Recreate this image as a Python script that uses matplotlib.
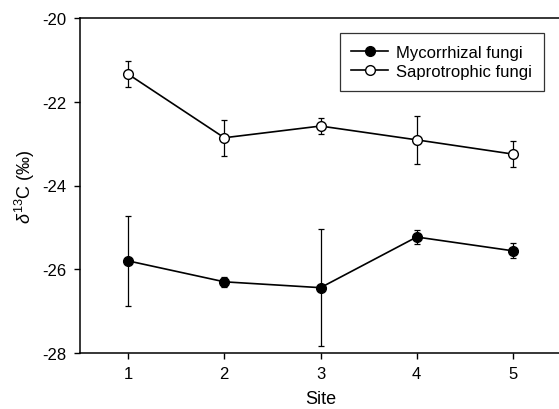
import matplotlib
matplotlib.use('Agg')
import matplotlib.pyplot as plt
from matplotlib.lines import Line2D

plt.rcParams['font.family'] = ['Liberation Sans', 'DejaVu Sans']
plt.rcParams['mathtext.fontset'] = 'custom'
plt.rcParams['mathtext.rm'] = 'Liberation Sans'
plt.rcParams['mathtext.it'] = 'Liberation Sans:italic'
plt.rcParams['axes.unicode_minus'] = False

# dados
sites = [1, 2, 3, 4, 5]
myc_mean = [-25.80, -26.30, -26.44, -25.23, -25.56]
myc_err = [1.07, 0.12, 1.40, 0.17, 0.18]
sap_mean = [-21.34, -22.86, -22.58, -22.91, -23.25]
sap_err = [0.31, 0.43, 0.19, 0.58, 0.31]

fig = plt.figure(figsize=(5.59, 4.10), dpi=100)
ax = fig.add_axes([80 / 559, 1 - 354 / 410, 481 / 559, 335 / 410])

ax.errorbar(sites, myc_mean, yerr=myc_err, color='black', lw=1.2,
            marker='o', ms=7, mfc='black', mec='black', capsize=2.5,
            elinewidth=0.9, capthick=0.9)
ax.errorbar(sites, sap_mean, yerr=sap_err, color='black', lw=1.2,
            marker='o', ms=7, mfc='white', mec='black', capsize=2.5,
            elinewidth=0.9, capthick=0.9)

ax.set_xlim(0.5, 5.5)
ax.set_ylim(-28, -20)
ax.set_xticks(sites)
ax.set_yticks([-28, -26, -24, -22, -20])
ax.tick_params(direction='out', length=4.5, width=1, labelsize=12, pad=5)
for s in ax.spines.values():
    s.set_linewidth(1.1)
ax.spines['right'].set_visible(False)

ax.set_xlabel('Site', fontsize=13, labelpad=6)
ax.set_ylabel(r'$\it{\delta}^{13}$C (‰)', fontsize=13, labelpad=4)

# legenda sem barras de erro
handles = [
    Line2D([], [], color='black', lw=1.2, marker='o', ms=7, mfc='black', mec='black'),
    Line2D([], [], color='black', lw=1.2, marker='o', ms=7, mfc='white', mec='black'),
]
leg = ax.legend(handles, ['Mycorrhizal fungi', 'Saprotrophic fungi'],
                loc='upper right', bbox_to_anchor=(544 / 559, 1 - 34 / 410),
                bbox_transform=fig.transFigure, fontsize=12, frameon=True,
                fancybox=False, edgecolor='black', borderpad=0.7,
                labelspacing=0.25, handlelength=2.2, handletextpad=0.5,
                borderaxespad=0)
leg.get_frame().set_linewidth(0.9)

fig.savefig('out.png', dpi=100)
